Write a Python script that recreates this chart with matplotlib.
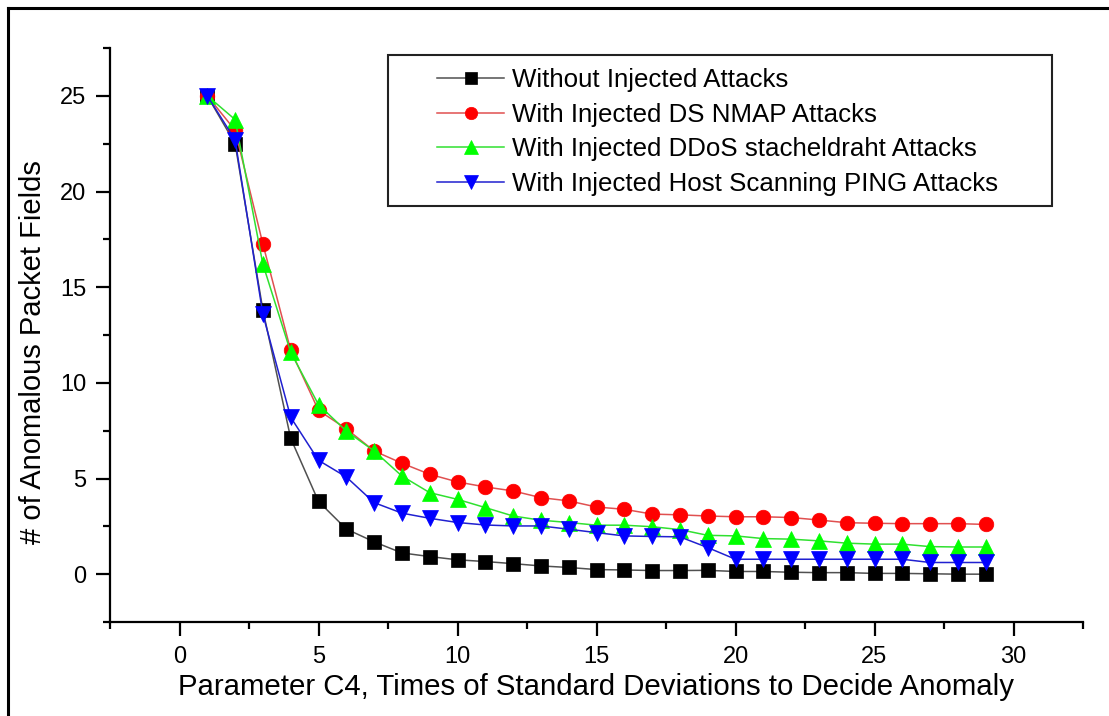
import numpy as np
import matplotlib
matplotlib.use('Agg')
import matplotlib.pyplot as plt
from matplotlib.lines import Line2D
from matplotlib.patches import Rectangle
from matplotlib.ticker import MultipleLocator

plt.rcParams['font.family'] = ['Liberation Sans', 'DejaVu Sans']

# ---------------------------------------------------------------------------
# Datos: campos anómalos frente al parámetro C4
# ---------------------------------------------------------------------------
c4 = np.arange(1, 30)

sin_ataques = [25.0, 22.5, 13.8, 7.1, 3.8, 2.36, 1.69, 1.11, 0.92, 0.75,
               0.66, 0.55, 0.43, 0.35, 0.24, 0.22, 0.19, 0.19, 0.2, 0.14,
               0.14, 0.1, 0.08, 0.08, 0.04, 0.04, 0.02, 0.0, 0.0]
ds_nmap = [25.0, 23.2, 17.25, 11.7, 8.56, 7.6, 6.44, 5.8, 5.22, 4.82,
           4.56, 4.35, 4.0, 3.83, 3.51, 3.39, 3.14, 3.1, 3.04, 3.0,
           3.0, 2.96, 2.83, 2.69, 2.66, 2.64, 2.64, 2.64, 2.6]
ddos_stacheldraht = [25.0, 23.76, 16.2, 11.6, 8.86, 7.48, 6.44, 5.13, 4.26, 3.91,
                     3.48, 3.04, 2.82, 2.7, 2.56, 2.56, 2.48, 2.33, 2.03, 2.0,
                     1.86, 1.83, 1.74, 1.62, 1.57, 1.57, 1.44, 1.42, 1.42]
ping_scan = [25.0, 22.7, 13.58, 8.2, 5.95, 5.08, 3.74, 3.19, 2.92, 2.7,
             2.57, 2.52, 2.52, 2.35, 2.17, 2.0, 1.97, 1.95, 1.39, 0.78,
             0.78, 0.78, 0.78, 0.78, 0.78, 0.78, 0.61, 0.61, 0.61]

etiquetas = ['Without Injected Attacks',
             'With Injected DS NMAP Attacks',
             'With Injected DDoS stacheldraht Attacks',
             'With Injected Host Scanning PING Attacks']

# ---------------------------------------------------------------------------
# Estilo de cada serie
# ---------------------------------------------------------------------------
series = [
    (sin_ataques, 's', '#000000', '#505050', 10),
    (ds_nmap, 'o', '#ff0000', '#e05050', 10.5),
    (ddos_stacheldraht, '^', '#00ff00', '#30e030', 12),
    (ping_scan, 'v', '#0000ff', '#2020d0', 12),
]

fig = plt.figure(figsize=(11.09, 7.16), dpi=100)
ax = fig.add_axes([110 / 1109, 1 - 622 / 716, (1083 - 110) / 1109, (622 - 48) / 716])

handles = []
for (valores, marcador, c_marca, c_linea, ms), etiqueta in zip(series, etiquetas):
    h, = ax.plot(c4, valores, color=c_linea, linewidth=1.1,
                 marker=marcador, markersize=ms,
                 markerfacecolor=c_marca, markeredgecolor=c_marca,
                 markeredgewidth=0.5, label=etiqueta)
    handles.append(h)

ax.set_xlim(-2.5, 32.5)
ax.set_ylim(-2.5, 27.5)
ax.xaxis.set_major_locator(MultipleLocator(5))
ax.xaxis.set_minor_locator(MultipleLocator(2.5))
ax.yaxis.set_major_locator(MultipleLocator(5))
ax.yaxis.set_minor_locator(MultipleLocator(2.5))

for lado in ['top', 'right']:
    ax.spines[lado].set_visible(False)
for lado in ['left', 'bottom']:
    ax.spines[lado].set_linewidth(1.6)

ax.tick_params(which='major', direction='out', length=10, width=1.6,
               labelsize=17, pad=7)
ax.tick_params(which='minor', direction='out', length=5, width=1.6)

ax.set_xlabel('Parameter C4, Times of Standard Deviations to Decide Anomaly',
              fontsize=21.2, labelpad=4)
ax.set_ylabel('# of Anomalous Packet Fields', fontsize=21)
ax.yaxis.set_label_coords(-0.065, 0.47)

# Leyenda sin marco; el recuadro se dibuja aparte
ley = fig.legend(handles=handles, loc='center left',
                 bbox_to_anchor=(437 / 1109, 1 - 132 / 716),
                 frameon=False, fontsize=18.6, numpoints=1,
                 handlelength=2.6, handletextpad=0.3, labelspacing=0.42,
                 borderpad=0, borderaxespad=0, markerscale=0.85)
fig.patches.append(Rectangle((388 / 1109, 1 - 206 / 716), (1052 - 388) / 1109,
                             (206 - 55) / 716, transform=fig.transFigure,
                             fill=False, edgecolor='#222222', linewidth=1.5))

# Marco exterior de la figura (lado izquierdo y superior)
fig.add_artist(Line2D([8 / 1109, 8 / 1109], [0, 1 - 8 / 716],
                      transform=fig.transFigure, color='black', linewidth=2.2))
fig.add_artist(Line2D([8 / 1109, 1], [1 - 8 / 716, 1 - 8 / 716],
                      transform=fig.transFigure, color='black', linewidth=2.2))

fig.savefig('out.png', dpi=100)
